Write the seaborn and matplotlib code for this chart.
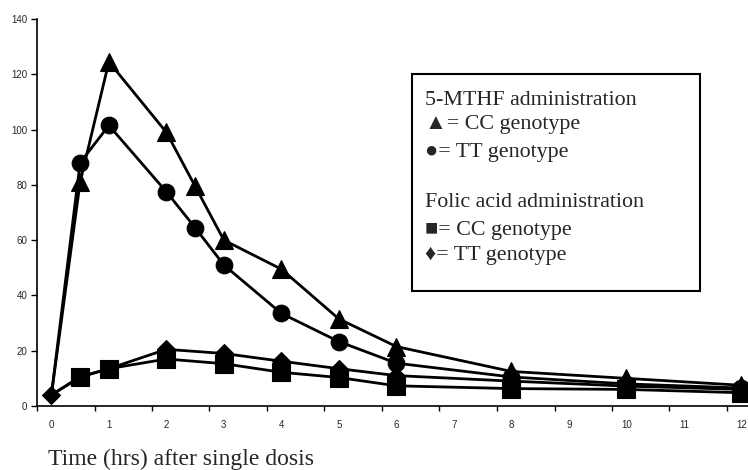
import numpy as np
import pandas as pd
import matplotlib
matplotlib.use("Agg")
import matplotlib.pyplot as plt
import seaborn as sns
from matplotlib.patches import Rectangle
from matplotlib.ticker import FixedLocator

# ---- data ----
time_mthf = [0, 0.5, 1, 2, 2.5, 3, 4, 5, 6, 8, 10, 12]
mthf_cc = [4, 81, 124.5, 99, 79.5, 60, 49.5, 31.5, 21.5, 12.5, 10, 7.5]
mthf_tt = [4, 88, 101.5, 77.5, 64.5, 51, 33.5, 23.3, 15.5, 10.5, 8, 6.5]
time_folic = [0, 0.5, 1, 2, 3, 4, 5, 6, 8, 10, 12]
folic_cc = [4, 10.5, 13.5, 17, 15.3, 12.2, 10.3, 7.3, 6.3, 6, 4.8]
folic_tt = [4, 10.5, 13.5, 20.5, 19, 16.2, 13.5, 11, 9, 7.2, 6]

x_tick_labels = [str(i) for i in range(13)]
y_ticks = [0, 20, 40, 60, 80, 100, 120, 140]

legend_lines = [
    "5-MTHF administration",
    "\u25B2= CC genotype",
    "\u25CF= TT genotype",
    "Folic acid administration",
    "\u25A0= CC genotype",
    "\u2666= TT genotype",
]
x_label = "Time (hrs) after single dosis"

sns.set_style("white")
plt.rcParams["font.family"] = ["Liberation Sans", "DejaVu Sans"]

W, H = 748, 470
fig = plt.figure(figsize=(W / 100, H / 100), dpi=100)
ax = fig.add_axes([37 / W, 1 - 406 / H, 1 - 37 / W, (406 - 19) / H])

series = [
    (time_folic, folic_tt, "D", 9, 0),
    (time_folic, folic_cc, "s", 13, 1),
    (time_mthf, mthf_tt, "o", 12, 1),
    (time_mthf, mthf_cc, "^", 13, 1),
]
for xs, ys, mk, ms, start in series:
    df = pd.DataFrame({"t": xs, "v": ys})
    sns.lineplot(data=df, x="t", y="v", ax=ax, color="black", linewidth=2,
                 marker=mk, markersize=ms, markeredgecolor="black",
                 markerfacecolor="black", markeredgewidth=0.8, clip_on=False,
                 markevery=list(range(start, len(xs))))

ax.set_xlim(-0.25, -0.25 + (W - 37) / 57.5)
ax.set_ylim(0, 140)
ax.set_xlabel("")
ax.set_ylabel("")

ax.xaxis.set_major_locator(FixedLocator(list(range(13))))
ax.set_xticklabels(x_tick_labels)
ax.xaxis.set_minor_locator(FixedLocator([k - 0.25 for k in range(13)]))
ax.tick_params(axis="x", which="major", length=0, pad=10, labelsize=7)
ax.tick_params(axis="x", which="minor", length=3.5, width=1, direction="out",
               bottom=True, color="black")
ax.set_yticks(y_ticks)
ax.tick_params(axis="y", which="major", length=4, width=1, direction="out",
               left=True, pad=3, labelsize=7, color="black")

for s in ["top", "right"]:
    ax.spines[s].set_visible(False)
for s in ["left", "bottom"]:
    ax.spines[s].set_color("black")
    ax.spines[s].set_linewidth(1.2)

# legend box
fig.patches.append(Rectangle((412 / W, 1 - 291 / H), (700 - 412) / W, (291 - 74) / H,
                             transform=fig.transFigure, fill=True, facecolor="white",
                             edgecolor="black", linewidth=1.5, zorder=5))
baselines = [105, 129, 157, 207, 235, 260]
serif = ["Liberation Serif", "DejaVu Serif"]
for txt, yb in zip(legend_lines, baselines):
    fig.text(425 / W, 1 - yb / H, txt, family=serif, fontsize=15.8,
             va="baseline", ha="left", zorder=6)

fig.text(48 / W, 1 - 465 / H, x_label, family=serif, fontsize=17,
         va="baseline", ha="left")

fig.savefig("out.png", dpi=100)
